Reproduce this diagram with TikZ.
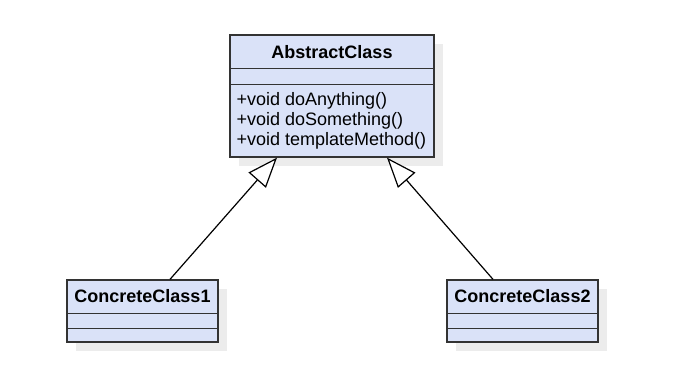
\documentclass[tikz,border=0pt]{standalone}
\usepackage{fontspec}
\setmainfont{Liberation Sans}
\usetikzlibrary{arrows.meta,shadows}
\definecolor{classfill}{RGB}{218,226,248}
\definecolor{classline}{RGB}{51,51,51}
\definecolor{shadowgray}{RGB}{236,236,236}
\begin{document}
\begin{tikzpicture}[x=1pt,y=-1pt,
  umltext/.style={font=\fontsize{18pt}{21pt}\selectfont, inner sep=0pt, text=black},
  classbox/.style={draw=classline, line width=1.3pt, fill=classfill, inner sep=0pt,
    drop shadow={shadow xshift=9pt, shadow yshift=-9pt, fill=shadowgray, opacity=1}},
  compline/.style={draw=classline, line width=1.3pt},
  generalization/.style={draw=black, line width=1.2pt,
    -{Triangle[open, length=30pt, width=23pt, fill=white]}}]
  \fill[white] (0,0) rectangle (685,385);
  \useasboundingbox (0,0) rectangle (685,385);

  % abstract parent class
  \node[classbox, minimum width=204pt, minimum height=122pt] (abs) at (332,96) {};
  \draw[compline] (abs.north west) ++(0,34) -- ++(204,0);
  \draw[compline] (abs.north west) ++(0,50) -- ++(204,0);
  \node[umltext, anchor=base, font=\fontsize{18pt}{21pt}\selectfont\bfseries] (absname)
    at ([yshift=-24pt]abs.north) {AbstractClass};
  \node[umltext, anchor=base west] (m1) at ([xshift=7pt, yshift=-71pt]abs.north west) {+void doAnything()};
  \node[umltext, anchor=base west] (m2) at ([xshift=7pt, yshift=-91pt]abs.north west) {+void doSomething()};
  \node[umltext, anchor=base west] (m3) at ([xshift=7pt, yshift=-111pt]abs.north west) {+void templateMethod()};

  % concrete subclasses
  \node[classbox, minimum width=151pt, minimum height=62pt] (c1) at (142.5,311) {};
  \draw[compline] (c1.north west) ++(0,34) -- ++(151,0);
  \draw[compline] (c1.north west) ++(0,49) -- ++(151,0);
  \node[umltext, anchor=base, font=\fontsize{18pt}{21pt}\selectfont\bfseries] (c1name)
    at ([yshift=-23pt]c1.north) {ConcreteClass1};

  \node[classbox, minimum width=151pt, minimum height=62pt] (c2) at (522.5,311) {};
  \draw[compline] (c2.north west) ++(0,34) -- ++(151,0);
  \draw[compline] (c2.north west) ++(0,49) -- ++(151,0);
  \node[umltext, anchor=base, font=\fontsize{18pt}{21pt}\selectfont\bfseries] (c2name)
    at ([yshift=-23pt]c2.north) {ConcreteClass2};

  % inheritance arrows
  \coordinate (c1top) at ([xshift=27.5pt]c1.north);
  \coordinate (c2top) at ([xshift=-29.5pt]c2.north);
  \coordinate (absleft) at ([xshift=-55pt]abs.south);
  \coordinate (absright) at ([xshift=55pt]abs.south);
  \draw[generalization] (c1top) -- (absleft);
  \draw[generalization] (c2top) -- (absright);
\end{tikzpicture}
\end{document}
